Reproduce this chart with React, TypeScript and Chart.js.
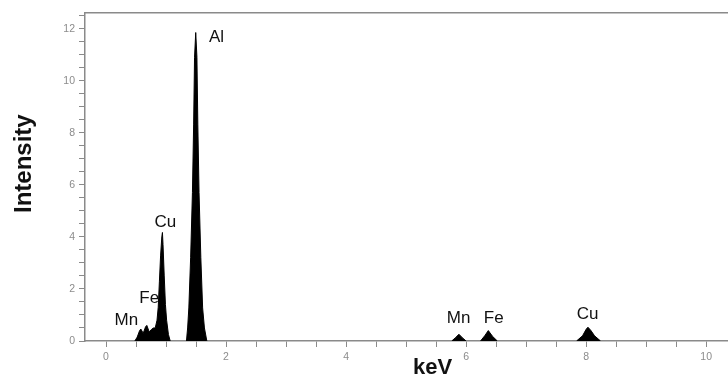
import React, { useEffect, useRef } from 'react';
import { Chart, registerables } from 'chart.js';

Chart.register(...registerables);

// Spectrum samples (keV) and intensities; null separates peaks
const energyKeV: number[] = [
  0.48, 0.52, 0.56, 0.58, 0.62, 0.66, 0.68, 0.72, 0.76, 0.79, 0.82, 0.85, 0.87, 0.89, 0.91, 0.93, 0.94, 0.95, 0.97, 0.99, 1.01, 1.04, 1.07,
  1.2,
  1.34, 1.36, 1.38, 1.41, 1.44, 1.46, 1.475, 1.495, 1.515, 1.53, 1.55, 1.58, 1.61, 1.64, 1.68,
  3.0,
  5.76, 5.82, 5.88, 5.94, 6.0,
  6.12,
  6.24, 6.31, 6.37, 6.44, 6.52,
  7.2,
  7.84, 7.94, 8.0, 8.03, 8.08, 8.14, 8.24,
];
const intensity: (number | null)[] = [
  0, 0.15, 0.4, 0.46, 0.3, 0.55, 0.6, 0.35, 0.45, 0.5, 0.5, 0.8, 1.3, 2.3, 3.3, 4.0, 4.17, 3.7, 2.5, 1.4, 0.8, 0.25, 0,
  null,
  0, 0.5, 1.27, 3.2, 5.7, 8.3, 10.9, 11.85, 10.9, 8.3, 5.7, 3.2, 1.27, 0.5, 0,
  null,
  0, 0.12, 0.26, 0.12, 0,
  null,
  0, 0.2, 0.4, 0.18, 0,
  null,
  0, 0.2, 0.45, 0.53, 0.4, 0.2, 0,
];

const xTickLabels: number[] = [0, 2, 4, 6, 8, 10];
const yTickLabels: number[] = [0, 2, 4, 6, 8, 10, 12];

const peakLabels: string[] = ['Mn', 'Fe', 'Cu', 'Al', 'Mn', 'Fe', 'Cu'];
const peakLabelEnergy: number[] = [0.34, 0.72, 0.99, 1.84, 5.875, 6.46, 8.025];
const peakLabelIntensity: number[] = [0.62, 1.46, 4.38, 11.5, 0.69, 0.69, 0.85];

const FONT = "'Liberation Sans', Arial, sans-serif";
const AXIS_GREY = '#8a8a8a';

const peakLabelPlugin = {
  id: 'peakLabels',
  afterDatasetsDraw(chart: any) {
    const { ctx, scales } = chart;
    ctx.save();
    ctx.fillStyle = '#111';
    ctx.font = `17px ${FONT}`;
    ctx.textAlign = 'center';
    ctx.textBaseline = 'alphabetic';
    peakLabels.forEach((t, i) => {
      const px = scales.x.getPixelForValue(peakLabelEnergy[i]);
      const py = scales.y.getPixelForValue(peakLabelIntensity[i]);
      ctx.fillText(t, px, py);
    });
    ctx.restore();
  },
};

const near = (v: number, list: number[]) => list.some((l) => Math.abs(l - v) < 1e-6);

export default function App() {
  const ref = useRef<HTMLCanvasElement | null>(null);
  useEffect(() => {
    if (!ref.current) return;
    const points = energyKeV.map((x, i) => ({ x, y: intensity[i] }));
    const chart = new Chart(ref.current, {
      type: 'line',
      data: {
        datasets: [
          {
            data: points as any,
            borderColor: '#000',
            backgroundColor: '#000',
            borderWidth: 1,
            pointRadius: 0,
            tension: 0,
            fill: 'origin',
            spanGaps: false,
          },
        ],
      },
      plugins: [peakLabelPlugin],
      options: {
        responsive: false,
        animation: false,
        layout: { padding: { top: 13, left: 0, right: 0, bottom: 0 } },
        plugins: { legend: { display: false }, tooltip: { enabled: false } },
        scales: {
          x: {
            type: 'linear',
            min: -0.35,
            max: 11.23,
            afterFit: (s: any) => { s.height = 38; },
            border: { display: true, color: AXIS_GREY, width: 1.5 },
            grid: { display: true, drawOnChartArea: false, drawTicks: true, tickLength: 6, tickColor: AXIS_GREY, tickWidth: 1 },
            ticks: {
              stepSize: 0.5,
              maxTicksLimit: 100,
              autoSkip: false,
              includeBounds: false,
              maxRotation: 0,
              padding: 4,
              color: '#8c8c8c',
              font: { family: FONT, size: 10.5 },
              callback: (v: any) => (near(Number(v), xTickLabels) ? String(Math.round(Number(v))) : ''),
            },
            title: {
              display: true,
              text: 'keV',
              color: '#111',
              font: { family: FONT, size: 22, weight: 'bold', lineHeight: 1 },
              padding: { top: 0, bottom: 0 },
            },
          },
          x2: {
            type: 'linear',
            position: 'top',
            min: -0.35,
            max: 11.23,
            afterFit: (s: any) => { s.height = 0; },
            border: { display: true, color: AXIS_GREY, width: 1.5 },
            grid: { display: false },
            ticks: { display: false },
          },
          y: {
            type: 'linear',
            min: 0,
            max: 12.6,
            afterFit: (s: any) => { s.width = 85; },
            border: { display: true, color: AXIS_GREY, width: 1.5 },
            grid: { display: true, drawOnChartArea: false, drawTicks: true, tickLength: 6, tickColor: AXIS_GREY, tickWidth: 1 },
            ticks: {
              stepSize: 0.5,
              maxTicksLimit: 100,
              autoSkip: false,
              includeBounds: false,
              padding: 4,
              color: '#8c8c8c',
              font: { family: FONT, size: 10.5 },
              callback: (v: any) => (near(Number(v), yTickLabels) ? String(Math.round(Number(v))) : ''),
            },
            title: {
              display: true,
              text: '    Intensity',
              color: '#111',
              font: { family: FONT, size: 24, weight: 'bold', lineHeight: 1 },
              padding: { top: 12, bottom: 0 },
            },
          },
        },
      },
    });
    return () => chart.destroy();
  }, []);

  return (
    <div style={{ position: 'absolute', left: 0, top: 0, width: 728, height: 379, overflow: 'hidden', background: '#fff' }}>
      <canvas ref={ref} width={780} height={379} style={{ display: 'block' }} />
    </div>
  );
}
